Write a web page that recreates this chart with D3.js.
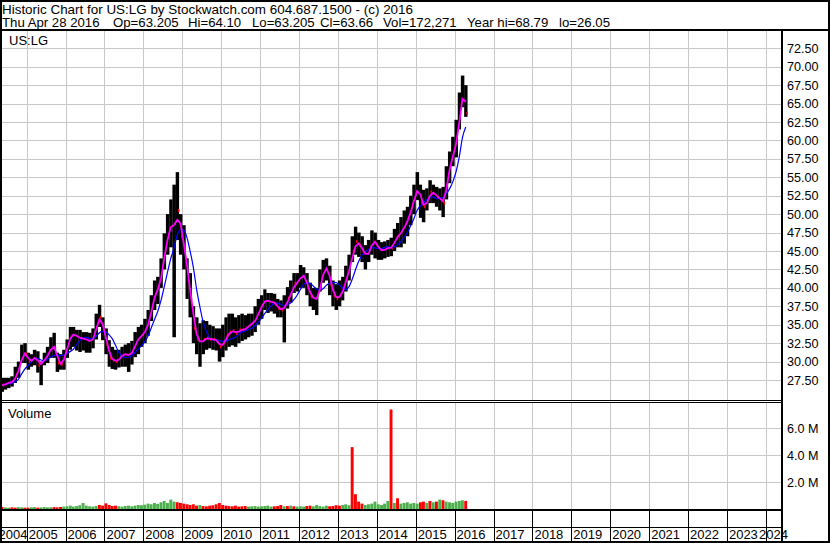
<!DOCTYPE html>
<html><head><meta charset="utf-8">
<script src="https://cdn.jsdelivr.net/npm/d3@7"></script>
<style>
body{margin:0;background:#fff}
svg{display:block}
text{font-family:"Liberation Sans",Arial,sans-serif;fill:#000}
</style>
</head><body><svg id="c" width="830" height="543"></svg>
<script>
// ---------------- data ----------------
const firstYear = 2004, firstMonth = 4; // May 2004 (0-based month)
const priceHigh = [
 27.8,27.8,27.8,28.0,29.3,30.0,32.3,32.5,
 31.2,31.0,31.6,31.4,30.0,31.2,32.0,33.3,33.9,31.2,31.0,31.6,
 33.0,34.7,34.7,34.3,34.3,34.0,34.0,33.9,34.5,36.5,37.7,36.0,
 34.5,32.9,32.0,31.6,31.6,32.0,32.3,32.5,32.8,34.0,34.7,35.0,
 35.8,37.0,39.0,41.0,41.5,44.0,47.4,50.0,52.0,54.0,55.7,50.0,
 48.5,44.0,42.0,37.5,36.0,35.2,35.6,35.5,35.0,34.8,34.5,34.5,
 35.0,36.0,36.5,36.5,36.0,36.3,36.5,36.3,36.5,36.5,37.5,38.5,
 39.0,39.8,39.3,39.3,39.2,38.5,38.3,39.0,40.1,41.0,42.0,42.0,
 43.1,42.8,42.0,40.7,40.0,40.0,42.5,43.8,44.0,43.0,41.0,40.5,
 41.0,41.5,43.0,44.5,47.0,48.3,47.5,47.0,45.8,46.5,47.8,47.5,
 46.5,46.2,46.3,46.5,46.8,48.0,48.8,49.6,50.5,51.0,52.5,54.0,
 55.7,54.0,53.3,53.5,54.6,54.0,53.7,53.5,53.7,56.5,58.5,60.5,
 62.8,66.5,68.8,67.5];
const priceLow = [
 25.9,26.2,26.4,26.6,27.1,27.8,29.8,29.8,
 28.9,29.3,29.5,28.5,26.8,29.5,29.8,30.5,30.5,28.6,28.9,28.9,
 30.5,31.6,32.0,31.5,31.3,31.5,31.2,31.2,31.8,33.0,34.7,32.9,
 31.0,29.3,29.0,28.9,29.2,29.3,29.3,28.6,29.6,30.6,31.0,32.0,
 32.5,33.5,35.5,37.0,37.8,40.0,42.5,44.5,45.5,33.3,46.5,44.5,
 42.5,38.5,36.0,32.5,31.0,29.3,31.0,31.6,31.8,31.6,31.5,30.0,
 30.6,31.5,32.0,32.2,32.0,32.5,32.8,33.0,33.3,33.5,34.0,35.0,
 35.8,37.0,36.6,36.8,36.5,36.0,36.0,32.6,37.2,38.0,39.3,39.5,
 40.0,40.0,39.0,37.5,37.0,36.3,39.5,40.7,41.0,39.0,37.5,37.0,
 37.5,38.3,39.5,41.0,43.5,44.5,44.2,43.5,42.5,43.5,44.5,44.0,
 43.8,43.8,44.0,44.2,44.3,45.0,45.5,45.5,46.0,47.0,48.5,50.0,
 51.9,49.5,48.9,50.5,51.5,51.5,51.0,50.5,49.6,52.0,54.2,56.5,
 57.7,61.5,64.5,63.2];
const priceClose = [
 26.8,27.0,27.2,27.2,28.2,29.2,31.2,31.0,
 30.0,30.2,30.8,29.5,29.8,30.5,31.0,32.2,31.8,29.8,29.6,30.8,
 32.5,33.8,33.5,33.5,33.0,33.2,32.8,32.8,33.2,35.5,36.0,34.2,
 32.3,30.5,30.2,30.0,30.5,31.0,31.0,30.8,31.5,32.6,33.4,33.5,
 34.5,35.5,37.8,39.5,40.0,42.5,45.5,47.5,49.0,48.0,50.5,47.0,
 45.0,41.0,38.5,34.5,33.0,32.5,33.0,33.2,33.0,33.0,32.8,32.0,
 32.5,33.5,34.0,34.2,33.8,34.3,34.3,34.5,35.0,35.2,35.8,37.0,
 37.8,38.5,38.0,38.2,37.8,37.2,37.0,37.5,38.6,39.5,40.6,40.8,
 41.8,41.5,40.0,38.8,38.5,38.5,41.0,42.5,42.8,40.5,39.0,38.5,
 39.0,40.0,41.5,43.0,45.0,46.3,45.8,45.0,44.2,45.0,46.5,46.0,
 45.2,45.0,45.3,45.5,45.4,46.8,47.0,47.8,48.5,49.5,51.0,52.5,
 53.8,51.5,51.0,52.0,53.0,52.8,52.3,52.0,51.5,55.0,57.0,58.5,
 60.5,64.5,66.8,63.7];
const volumeM = [
 0.15,0.12,0.10,0.12,0.10,0.14,0.12,0.10,
 0.10,0.12,0.14,0.10,0.12,0.15,0.12,0.13,0.14,0.12,0.15,0.18,
 0.20,0.25,0.18,0.22,0.28,0.45,0.25,0.20,0.18,0.22,0.30,0.25,
 0.42,0.30,0.22,0.25,0.20,0.18,0.22,0.25,0.20,0.25,0.30,0.28,
 0.32,0.40,0.35,0.45,0.38,0.50,0.60,0.45,0.70,0.55,0.50,0.45,
 0.40,0.35,0.30,0.35,0.25,0.30,0.22,0.20,0.25,0.28,0.35,0.45,
 0.30,0.25,0.22,0.20,0.25,0.18,0.20,0.22,0.18,0.20,0.22,0.18,
 0.20,0.22,0.25,0.18,0.20,0.22,0.30,0.20,0.22,0.25,0.20,0.18,
 0.20,0.18,0.22,0.25,0.20,0.30,0.22,0.18,0.25,0.20,0.22,0.28,
 0.25,0.30,0.35,0.28,4.60,1.10,0.55,0.40,0.30,0.35,0.40,0.55,
 0.35,0.30,0.40,0.60,7.40,0.45,0.80,0.40,0.45,0.50,0.40,0.45,
 0.40,0.50,0.55,0.45,0.60,0.50,0.55,0.70,0.65,0.55,0.50,0.45,
 0.55,0.60,0.65,0.60];
const priceTicks = [27.5,30,32.5,35,37.5,40,42.5,45,47.5,50,52.5,55,57.5,60,62.5,65,67.5,70,72.5];
const volumeTicks = [2,4,6];
const yearTicks = d3.range(2004, 2025);
const symbol = "US:LG";
const headerLine1 = "Historic Chart for US:LG by Stockwatch.com 604.687.1500 - (c) 2016";
const headerFields = ["Thu Apr 28 2016","Op=63.205","Hi=64.10","Lo=63.205","Cl=63.66","Vol=172,271","Year hi=68.79","lo=26.05"];

// ---------------- layout ----------------
const W = 830, H = 543;
const plotL = 2, plotR = 781;
const mainTop = 31, mainBot = 400;
const volTop = 403, volBot = 509;
const axisY = 510, axisMid = 527, axisBot = 541;
const headerFieldX = [2,113,188,252,320,383,467,559];

const svg = d3.select("#c");
svg.append("rect").attr("width", W).attr("height", H).attr("fill", "#fff");

const x = d3.scaleTime()
  .domain([new Date(2005,0,1), new Date(2024,0,1)])
  .range([26.7, 765.8]);
const y = d3.scaleLinear().domain([27.5, 72.5]).range([380, 48.3]);
const yv = d3.scaleLinear().domain([0, 6]).range([509, 428.3]);

const data = priceClose.map((c,i)=>({
  date: new Date(firstYear, firstMonth + i, 15),
  next: new Date(firstYear, firstMonth + i + 1, 15),
  hi: priceHigh[i], lo: priceLow[i], close: c, vol: volumeM[i],
  down: c < (priceHigh[i] + priceLow[i]) / 2
}));
function ma(n){
  return data.map((d,i)=>{
    const s = priceClose.slice(Math.max(0,i-n+1), i+1);
    return {date: d.date, v: d3.mean(s)};
  });
}
const maShort = ma(2), maLong = ma(6);

// ---------------- grid ----------------
const grid = svg.append("g").attr("stroke", "#c8c8c8").attr("stroke-width", 1).attr("shape-rendering","crispEdges");
yearTicks.filter(yr => x(new Date(yr,0,1)) > plotL).forEach(yr=>{
  const gx = Math.round(x(new Date(yr,0,1))) + 0.5;
  grid.append("line").attr("x1",gx).attr("x2",gx).attr("y1",mainTop).attr("y2",mainBot);
  grid.append("line").attr("x1",gx).attr("x2",gx).attr("y1",volTop).attr("y2",volBot);
});
priceTicks.forEach(t=>{
  const gy = Math.round(y(t)) + 0.5;
  grid.append("line").attr("x1",plotL).attr("x2",plotR).attr("y1",gy).attr("y2",gy);
});
volumeTicks.forEach(t=>{
  const gy = Math.round(yv(t)) + 0.5;
  grid.append("line").attr("x1",plotL).attr("x2",plotR).attr("y1",gy).attr("y2",gy);
});

// ---------------- volume ----------------
svg.append("g").selectAll("rect").data(data).join("rect")
  .attr("x", d => x(d.date) - 1.5)
  .attr("width", 2.9)
  .attr("y", d => yv(d.vol))
  .attr("height", d => yv(0) - yv(d.vol))
  .attr("fill", d => d.down ? "#ff0000" : "#4cb04c");

// ---------------- price bars ----------------
svg.append("g").selectAll("rect").data(data).join("rect")
  .attr("x", d => x(d.date) - 1.6)
  .attr("width", d => x(d.next) - x(d.date) + 0.2)
  .attr("y", d => y(d.hi))
  .attr("height", d => y(d.lo) - y(d.hi))
  .attr("fill", "#000");
svg.append("g").selectAll("rect").data(data.filter(d=>d.down)).join("rect")
  .attr("x", d => x(d.date) + 0.6)
  .attr("width", 1.5)
  .attr("y", d => y(d.close) - 1.5)
  .attr("height", 3)
  .attr("fill", "#ff0000");

// ---------------- moving averages ----------------
const lineSmooth = d3.line().x(d => x(d.date)).y(d => y(d.v)).curve(d3.curveMonotoneX);
const lineRaw = d3.line().x(d => x(d.date)).y(d => y(d.v));
svg.append("path").datum(maLong).attr("d", lineSmooth).attr("fill","none").attr("stroke","#0000ff").attr("stroke-width",1.2);
svg.append("path").datum(maShort).attr("d", lineRaw).attr("fill","none").attr("stroke","#ff00ff").attr("stroke-width",1.8);

// ---------------- frame ----------------
const fr = svg.append("g").attr("stroke","#000").attr("shape-rendering","crispEdges");
fr.append("rect").attr("x",1).attr("y",1).attr("width",W-2).attr("height",H-2).attr("fill","none").attr("stroke-width",2);
fr.append("line").attr("x1",0).attr("x2",W).attr("y1",30).attr("y2",30).attr("stroke-width",2);
fr.append("line").attr("x1",plotR+1).attr("x2",plotR+1).attr("y1",30).attr("y2",H).attr("stroke-width",2);
fr.append("line").attr("x1",0).attr("x2",plotR).attr("y1",mainBot+0.5).attr("y2",mainBot+0.5).attr("stroke-width",1);
fr.append("line").attr("x1",0).attr("x2",plotR).attr("y1",mainBot+2.5).attr("y2",mainBot+2.5).attr("stroke-width",1);
fr.append("line").attr("x1",0).attr("x2",plotR).attr("y1",axisY).attr("y2",axisY).attr("stroke-width",2);
fr.append("line").attr("x1",0).attr("x2",plotR).attr("y1",axisMid+0.5).attr("y2",axisMid+0.5).attr("stroke-width",1);
yearTicks.filter(yr => x(new Date(yr,0,1)) > plotL).forEach(yr=>{
  const gx = Math.round(x(new Date(yr,0,1))) + 0.5;
  fr.append("line").attr("x1",gx).attr("x2",gx).attr("y1",axisY).attr("y2",axisBot).attr("stroke-width",1);
});

// ---------------- text ----------------
svg.append("text").attr("x",2).attr("y",13.5).attr("font-size","13.4px")
  .attr("textLength",411).attr("lengthAdjust","spacingAndGlyphs").text(headerLine1);
svg.append("g").selectAll("text").data(headerFields).join("text")
  .attr("x",(d,i)=>headerFieldX[i]).attr("y",27).attr("font-size","13.2px").text(d=>d);
svg.append("text").attr("x",9).attr("y",45).attr("font-size","13px").text(symbol);
svg.append("text").attr("x",8).attr("y",417.5).attr("font-size","13px").text("Volume");

svg.append("g").selectAll("text").data(priceTicks).join("text")
  .attr("x", 787).attr("y", d => y(d)).attr("dy","0.36em")
  .attr("font-size","12.6px").text(d => d.toFixed(2));
svg.append("g").selectAll("text").data(volumeTicks).join("text")
  .attr("x", 787).attr("y", d => yv(d)).attr("dy","0.36em")
  .attr("font-size","12.6px").text(d => d.toFixed(1) + " M");
svg.append("g").selectAll("text").data(yearTicks).join("text")
  .attr("x", d => Math.min(Math.max(x(new Date(d,0,1)) + 2, -1.5), plotR - 22))
  .attr("y", 538.5)
  .attr("font-size","13px").text(d => d);
</script>
</body></html>
